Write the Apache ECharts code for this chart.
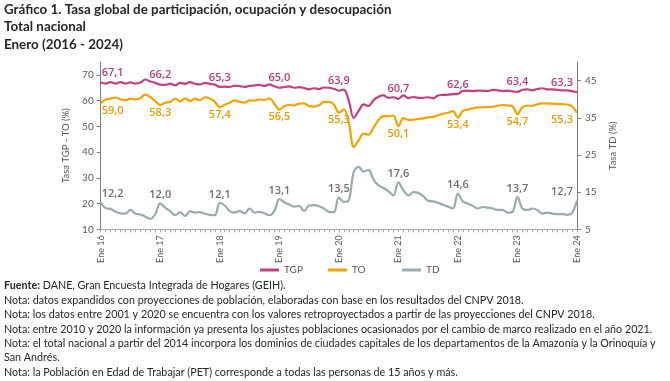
<!DOCTYPE html>
<html><head><meta charset="utf-8">
<script src="https://cdn.jsdelivr.net/npm/echarts@6/dist/echarts.min.js"></script>
<style>html,body{margin:0;padding:0;background:#fff}#c{width:670px;height:381px}</style>
</head><body><div id="c"></div>
<script>
const monthNames = ['Ene','Feb','Mar','Abr','May','Jun','Jul','Ago','Sep','Oct','Nov','Dic'];
const yearCodes = ['16','17','18','19','20','21','22','23','24'];
const seriesNames = ['TGP','TO','TD'];
const tgp = [
 67.1,66.6,67.2,66.6,67.2,66.6,67.1,66.6,67.0,68.2,67.4,66.9,
 66.2,66.1,66.6,65.9,66.9,66.5,67.2,66.5,66.3,66.9,66.5,66.2,
 65.3,65.4,65.3,65.8,65.6,65.3,65.7,65.9,66.1,65.7,66.3,65.6,
 65.0,65.3,65.5,65.0,65.2,64.9,64.4,64.8,64.5,65.1,65.0,64.6,
 63.9,64.3,60.0,53.3,56.0,58.5,57.9,60.2,61.5,62.0,61.1,61.3,
 60.7,62.0,61.0,61.4,61.1,61.1,61.3,60.9,62.0,62.2,62.3,62.5,
 62.6,63.8,63.9,63.7,63.9,63.8,63.7,64.2,64.0,63.7,63.9,63.6,
 63.4,64.2,64.4,64.0,64.5,64.8,64.4,64.4,64.2,64.0,64.0,63.7,
 63.3];
const to = [
 59.0,60.4,60.8,61.2,60.5,60.1,60.8,60.4,61.0,62.3,61.4,59.8,
 58.3,59.2,59.5,60.8,59.7,60.9,59.8,60.8,60.1,61.3,60.8,59.6,
 57.4,58.4,59.2,60.1,59.5,59.2,60.1,60.0,60.5,60.2,60.9,58.8,
 56.5,57.8,58.3,58.1,58.8,58.9,57.9,57.7,58.2,59.5,59.5,58.5,
 55.3,56.6,51.5,42.0,44.6,47.2,46.8,49.5,52.5,54.0,54.0,54.2,
 50.1,53.2,52.5,52.6,52.9,53.1,53.5,53.7,54.3,54.9,55.3,55.9,
 53.4,56.0,56.5,57.0,57.4,57.4,57.5,57.6,58.0,58.3,58.1,57.8,
 54.7,57.5,58.0,58.0,58.6,58.9,58.9,58.8,58.7,58.6,58.5,57.8,
 55.3];
const td = [
 12.2,10.7,10.5,9.7,9.3,9.2,10.2,9.2,9.0,8.4,7.8,9.1,
 12.0,10.8,9.9,8.8,9.6,8.6,9.9,9.5,9.6,9.2,8.9,8.8,
 12.1,11.4,9.9,9.5,9.9,9.3,10.6,9.5,9.7,9.3,8.8,9.9,
 13.1,12.3,11.7,11.1,11.3,9.9,11.4,11.5,11.2,10.6,9.7,9.6,
 13.5,12.4,12.8,20.4,21.8,20.5,21.0,18.3,16.8,16.1,15.2,14.1,
 17.6,15.5,14.1,15.0,14.8,13.9,12.7,12.5,12.1,11.6,11.1,10.6,
 14.6,12.5,11.9,11.3,10.6,11.0,10.8,10.6,10.2,10.2,9.5,9.7,
 13.7,10.6,10.2,10.6,10.2,9.2,9.5,9.2,9.1,9.1,8.9,9.4,
 12.7];
const titleLines = ['Gráfico 1. Tasa global de participación, ocupación y desocupación','Total nacional','Enero (2016 - 2024)'];
const footLines = [
 'Nota: datos expandidos con proyecciones de población, elaboradas con base en los resultados del CNPV 2018.',
 'Nota: los datos entre 2001 y 2020 se encuentra con los valores retroproyectados a partir de las proyecciones del CNPV 2018.',
 'Nota: entre 2010 y 2020 la información ya presenta los ajustes poblaciones ocasionados por el cambio de marco realizado en el año 2021.',
 'Nota: el total nacional a partir del 2014 incorpora los dominios de ciudades capitales de los departamentos de la Amazonía y la Orinoquía y',
 'San Andrés.',
 'Nota: la Población en Edad de Trabajar (PET) corresponde a todas las personas de 15 años y más.'];

const categories = [];
yearCodes.forEach((y, k) => { monthNames.forEach(m => { if (k < yearCodes.length - 1 || m === 'Ene') categories.push(m + ' ' + y); }); });

const FONT = 'Lato, "Open Sans", sans-serif';
const NUMFONT = '"Open Sans", sans-serif';
const fmt = v => v.toFixed(1).replace('.', ',');
function withLabels(arr) {
  const last = arr.length - 1;
  return arr.map((v, i) => {
    if (i % 12 !== 0) return v;
    const o = {value: v, label: {show: true}};
    if (i === 0) o.label.offset = [12, 0];
    if (i === last) o.label.offset = [-15, 0];
    return o;
  });
}
const colors = {TGP: '#C3407F', TO: '#F4A300', TD: '#9AABAD'};
const labelColors = {TGP: '#C0397E', TO: '#EE9A00', TD: '#6E6E6E'};
function mkLabel(name, pos, dist) {
  return {show: false, position: pos, distance: dist, color: labelColors[name], fontFamily: NUMFONT,
    fontSize: 11, fontWeight: 600, formatter: p => fmt(p.value)};
}
const chart = echarts.init(document.getElementById('c'), null, {renderer: 'canvas'});
const graphics = [];
titleLines.forEach((t, i) => graphics.push({type: 'text', left: 4, top: 3 + i * 17.5,
  style: {text: t, font: 'bold 13.4px ' + FONT, fill: '#262626'}}));
graphics.push({type: 'text', left: 4, top: 280.5, style: {
  text: '{b|Fuente:} DANE, Gran Encuesta Integrada de Hogares (GEIH).',
  font: '10.75px ' + FONT, fill: '#262626',
  rich: {b: {fontWeight: 'bold', fontSize: 10.75, fontFamily: FONT, fill: '#262626'}}}});
footLines.forEach((t, i) => graphics.push({type: 'text', left: 4, top: 294.9 + i * 14.4,
  style: {text: t, font: '10.75px ' + FONT, fill: '#262626'}}));

const legendBase = {top: 260, itemWidth: 19, itemHeight: 3, icon: 'rect',
  textStyle: {fontSize: 10, color: '#595959', fontFamily: FONT}, itemGap: 4};
const sym = {symbol: 'circle', symbolSize: 0, showSymbol: true};
chart.setOption({
  animation: false,
  backgroundColor: '#fff',
  graphic: graphics,
  legend: [
    Object.assign({data: ['TGP'], left: 255}, legendBase),
    Object.assign({data: ['TO'], left: 323}, legendBase),
    Object.assign({data: ['TD'], left: 397}, legendBase)
  ],
  grid: {left: 100.7, right: 93, top: 62, bottom: 151.7, containLabel: false},
  xAxis: {type: 'category', data: categories, boundaryGap: false,
    axisLine: {lineStyle: {color: '#A6A6A6', width: 1}},
    axisTick: {show: true, interval: 0, length: 3, lineStyle: {color: '#A6A6A6'}},
    axisLabel: {interval: i => i % 12 === 0, rotate: 90, fontSize: 9, color: '#595959', fontFamily: FONT, margin: 6},
    splitLine: {show: false}},
  yAxis: [
    {type: 'value', min: 10, max: 75, interval: 10, position: 'left',
     name: 'Tasa TGP - TO (%)', nameLocation: 'middle', nameRotate: 90, nameGap: 17,
     nameTextStyle: {fontSize: 9.5, color: '#595959', fontFamily: FONT},
     axisLine: {show: true, lineStyle: {color: '#7F7F7F'}},
     axisTick: {show: true, length: 4, lineStyle: {color: '#7F7F7F'}},
     axisLabel: {showMaxLabel: false, fontSize: 10, color: '#595959', fontFamily: FONT, margin: 7},
     splitLine: {show: false}},
    {type: 'value', min: 5, max: 50, interval: 10, position: 'right',
     name: 'Tasa TD (%)', nameLocation: 'middle', nameRotate: 90, nameGap: 25,
     nameTextStyle: {fontSize: 9.5, color: '#595959', fontFamily: FONT},
     axisLine: {show: true, lineStyle: {color: '#7F7F7F'}},
     axisTick: {show: true, length: 4, lineStyle: {color: '#7F7F7F'}},
     axisLabel: {showMaxLabel: false, fontSize: 10, color: '#595959', fontFamily: FONT, margin: 8},
     splitLine: {show: false}}
  ],
  series: [
    Object.assign({name: 'TGP', type: 'line', data: withLabels(tgp), yAxisIndex: 0, smooth: 0.35,
     lineStyle: {color: colors.TGP, width: 2.2}, itemStyle: {color: colors.TGP}, label: mkLabel('TGP', 'top', 4)}, sym),
    Object.assign({name: 'TO', type: 'line', data: withLabels(to), yAxisIndex: 0, smooth: 0.35,
     lineStyle: {color: colors.TO, width: 2.2}, itemStyle: {color: colors.TO}, label: mkLabel('TO', 'bottom', 2)}, sym),
    Object.assign({name: 'TD', type: 'line', data: withLabels(td), yAxisIndex: 1, smooth: 0.35,
     lineStyle: {color: colors.TD, width: 2.2}, itemStyle: {color: colors.TD}, label: mkLabel('TD', 'top', 3)}, sym)
  ]
});
</script></body></html>
